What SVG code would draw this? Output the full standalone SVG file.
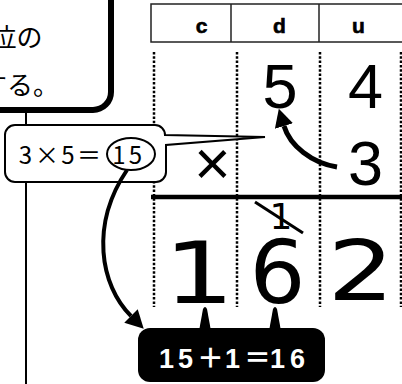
<svg xmlns="http://www.w3.org/2000/svg" width="402" height="384" viewBox="0 0 402 384">
<style>
.jp{font-family:"Noto Sans CJK JP","Noto Sans",sans-serif;}
.hd{font-family:"Liberation Sans",Arial,sans-serif;font-weight:bold;font-size:21px;text-anchor:middle;stroke:#000;stroke-width:0.6px;}
.big{font-family:"Liberation Sans",Arial,sans-serif;font-size:63px;text-anchor:middle;}
.hw{font-family:"DejaVu Sans",sans-serif;text-anchor:middle;stroke-linejoin:round;}
.dot{stroke:#000;stroke-width:2.5;stroke-dasharray:2.5 1.8;fill:none;}
.arrow{fill:none;stroke:#000;}
</style>
<defs>
<marker id="ah" markerUnits="userSpaceOnUse" markerWidth="18" markerHeight="19" refX="0" refY="9.5" orient="auto" viewBox="0 0 18 19"><path d="M0,0 L18,9.5 L0,19 Z" fill="#000"/></marker>
</defs>
<g id="connectors">
<line id="lead" x1="26" y1="110" x2="26" y2="384" stroke="#000" stroke-width="2"/>
</g>
<g id="top-box">
<rect x="-30" y="-30" width="141" height="140" rx="18" fill="#fff" stroke="#000" stroke-width="6"/>
<text class="jp" font-size="26"><tspan x="-9.5" y="47">位の</tspan><tspan x="-19" y="95">する。</tspan></text>
</g>
<g id="header">
<rect x="151" y="4" width="262" height="38" fill="#fff" stroke="#222" stroke-width="1.5"/>
<line x1="231" y1="4" x2="231" y2="42" stroke="#222" stroke-width="1.5"/>
<line x1="319" y1="4" x2="319" y2="42" stroke="#222" stroke-width="1.5"/>
<text class="hd" x="201.5" y="33">c</text>
<text class="hd" x="279.5" y="33">d</text>
<text class="hd" x="358.5" y="33">u</text>
</g>
<g id="columns">
<line class="dot" x1="154" y1="52" x2="154" y2="307"/>
<line class="dot" x1="237" y1="52" x2="237" y2="307"/>
<line class="dot" x1="320" y1="52" x2="320" y2="307"/>
<line class="dot" x1="401" y1="52" x2="401" y2="307"/>
<line x1="151" y1="197" x2="402" y2="197" stroke="#000" stroke-width="4.5"/>
</g>
<g id="operands">
<text class="big" x="280" y="108">5</text>
<text class="big" x="365.5" y="108">4</text>
<text class="big" x="365.5" y="185">3</text>
<text class="big" x="212.5" y="185">×</text>
</g>
<g id="result">
<text class="hw" style="font-size:86px" transform="translate(199,303) scale(1.3,1)">1</text>
<text class="hw" style="font-size:88px" x="277.5" y="303">6</text>
<text class="hw" style="font-size:84px" transform="translate(361,300) scale(1.25,1)">2</text>
<text class="hw" style="font-size:36px" x="281" y="229">1</text>
<line x1="255" y1="202" x2="303" y2="233" stroke="#000" stroke-width="3"/>
</g>
<g id="callout">
<path d="M15,125 H155 A10,10 0 0 1 165,135 L265,137 L166,145 V172 A10,10 0 0 1 156,182 H15 A10,10 0 0 1 5,172 V135 A10,10 0 0 1 15,125 Z" fill="#fff" stroke="#000" stroke-width="2"/>
<text class="jp" font-size="24" text-anchor="middle" x="25.5 47 68 89 119 135.5" y="163.5">3×5＝15</text>
<ellipse cx="131" cy="154" rx="24" ry="16" fill="none" stroke="#000" stroke-width="2"/>
</g>
<g id="sum-box">
<rect x="138" y="328" width="187" height="54" rx="12" fill="#000"/>
<path d="M199,331 L203,309 Q205,305 207,309 L211,331 Z" fill="#000"/>
<path d="M269,331 L273,309 Q275,305 277,309 L281,331 Z" fill="#000"/>
<text font-family="'Liberation Sans','Noto Sans CJK JP',sans-serif" font-weight="bold" font-size="27" fill="#fff" x="159 178 197 225 244 270 290" y="368">15＋1＝16</text>
</g>
<g id="arrows">
<path class="arrow" stroke-width="5" d="M337,167 C312,163 290,146 284,126" marker-end="url(#ah)"/>
<path class="arrow" stroke-width="4" d="M127,170 C90,225 100,285 131,316" marker-end="url(#ah)"/>
</g>
</svg>
